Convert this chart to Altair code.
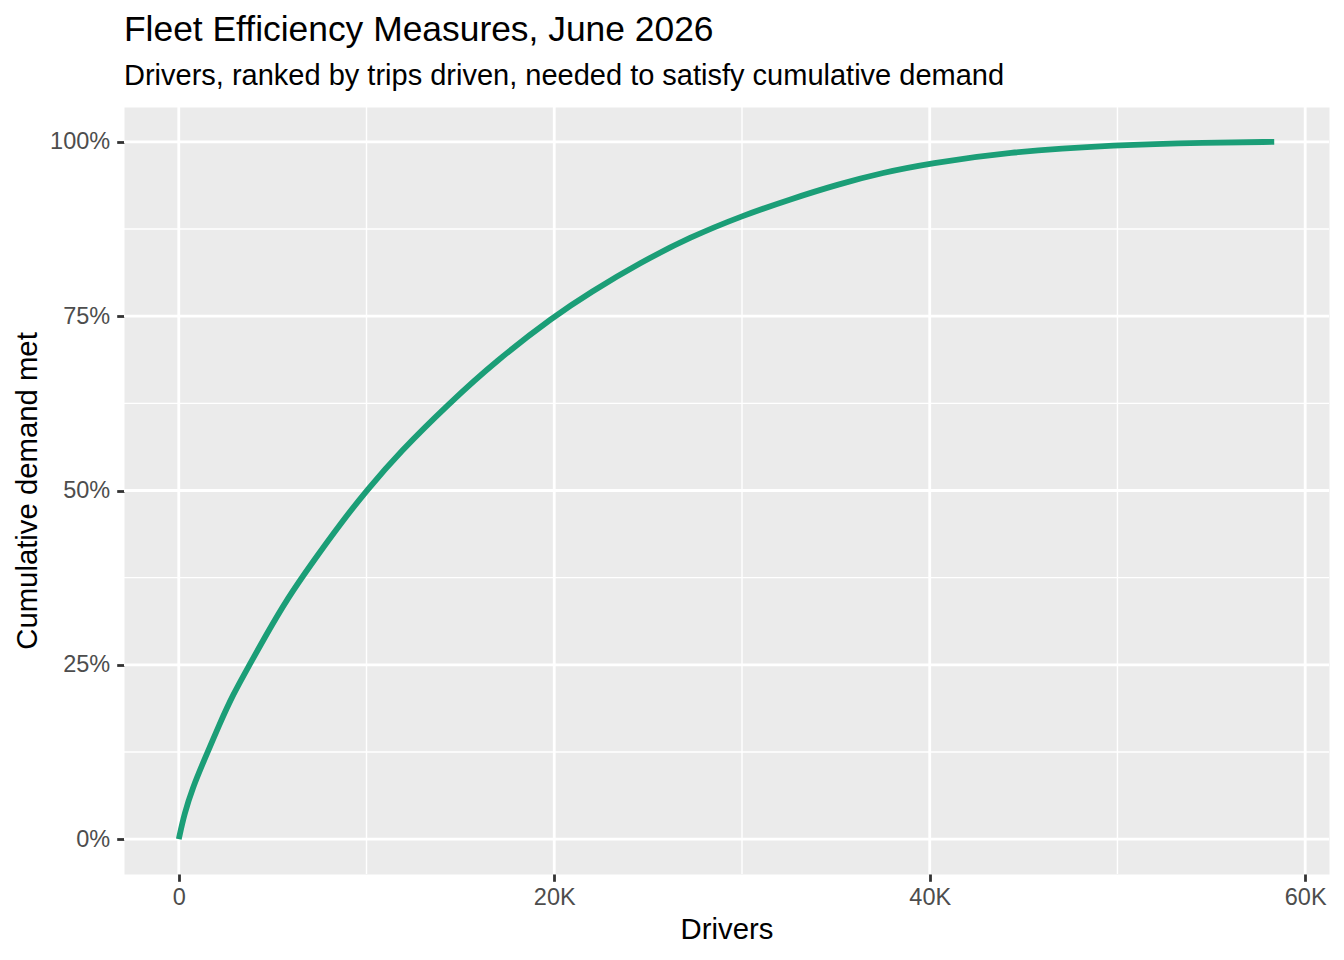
import altair as alt
import pandas as pd

# Curve (drivers ranked by trips, cumulative share of demand)
drivers = [0, 300, 760, 1300, 2170, 2880, 3770, 4550, 5800, 7200, 8600, 10000,
           11800, 14400, 16900, 20000, 21900, 24600, 27200, 30000, 32600, 35100,
           37500, 40000, 44000, 50000, 54700, 58350]
demand = [0.0, 0.037, 0.075, 0.110, 0.165, 0.207, 0.250, 0.288, 0.346, 0.400,
          0.452, 0.500, 0.556, 0.625, 0.686, 0.750, 0.784, 0.827, 0.863, 0.894,
          0.918, 0.939, 0.956, 0.969, 0.985, 0.996, 0.999, 1.000]

x_major = [0, 20000, 40000, 60000]
x_minor = [10000, 30000, 50000]
y_major = [0, 0.25, 0.5, 0.75, 1.0]
y_minor = [0.125, 0.375, 0.625, 0.875]

FONT = "Liberation Sans"

x_min, x_max = min(drivers), max(drivers)
pad_x = (x_max - x_min) * 0.05
x_scale = alt.Scale(domain=[x_min - pad_x, x_max + pad_x], nice=False, zero=False)
y_scale = alt.Scale(domain=[-0.05, 1.05], nice=False, zero=False)

common_axis = dict(
    grid=False, domain=False, tickSize=7.3, tickWidth=2.8, tickColor="#333333",
    labelColor="#4D4D4D", labelFontSize=23.5, labelFont=FONT, labelFlush=False,
    labelOverlap=False, titleFontSize=29.3, titleFont=FONT, titleColor="black",
    titleFontWeight="normal",
)
x_axis = alt.Axis(
    values=x_major,
    labelExpr="datum.value == 0 ? '0' : format(datum.value / 1000, 'd') + 'K'",
    title="Drivers", labelPadding=4.5, titlePadding=6, **common_axis,
)
y_axis = alt.Axis(
    values=y_major, format=".0%", title="Cumulative demand met",
    labelPadding=7, titlePadding=7, **common_axis,
)

curve_df = pd.DataFrame({"drivers": drivers, "demand": demand})

xg_minor = alt.Chart(pd.DataFrame({"drivers": x_minor})).mark_rule(
    color="white", strokeWidth=1.4
).encode(x=alt.X("drivers:Q", scale=x_scale, axis=x_axis))
xg_major = alt.Chart(pd.DataFrame({"drivers": x_major})).mark_rule(
    color="white", strokeWidth=2.8
).encode(x=alt.X("drivers:Q", scale=x_scale, axis=x_axis))
yg_minor = alt.Chart(pd.DataFrame({"demand": y_minor})).mark_rule(
    color="white", strokeWidth=1.4
).encode(y=alt.Y("demand:Q", scale=y_scale, axis=y_axis))
yg_major = alt.Chart(pd.DataFrame({"demand": y_major})).mark_rule(
    color="white", strokeWidth=2.8
).encode(y=alt.Y("demand:Q", scale=y_scale, axis=y_axis))

line = alt.Chart(curve_df).mark_line(
    color="#1B9E77", strokeWidth=5.8, interpolate="basis"
).encode(
    x=alt.X("drivers:Q", scale=x_scale, axis=x_axis),
    y=alt.Y("demand:Q", scale=y_scale, axis=y_axis),
)

chart = alt.layer(xg_minor, yg_minor, xg_major, yg_major, line).properties(
    width=1205,
    height=767,
    padding={"left": 116, "top": 99, "right": 7, "bottom": 78},
    autosize=alt.AutoSizeParams(type="none"),
    background="white",
    title=alt.TitleParams(
        text="Fleet Efficiency Measures, June 2026",
        subtitle="Drivers, ranked by trips driven, needed to satisfy cumulative demand",
        anchor="start", frame="group", font=FONT, subtitleFont=FONT,
        fontSize=35.4, subtitleFontSize=29.0, fontWeight="normal",
        color="black", subtitleColor="black", offset=14.6, subtitlePadding=13.75,
    ),
).configure_view(fill="#EBEBEB", stroke="transparent")

chart.save("out.html", embed_options={"renderer": "svg", "actions": False})
